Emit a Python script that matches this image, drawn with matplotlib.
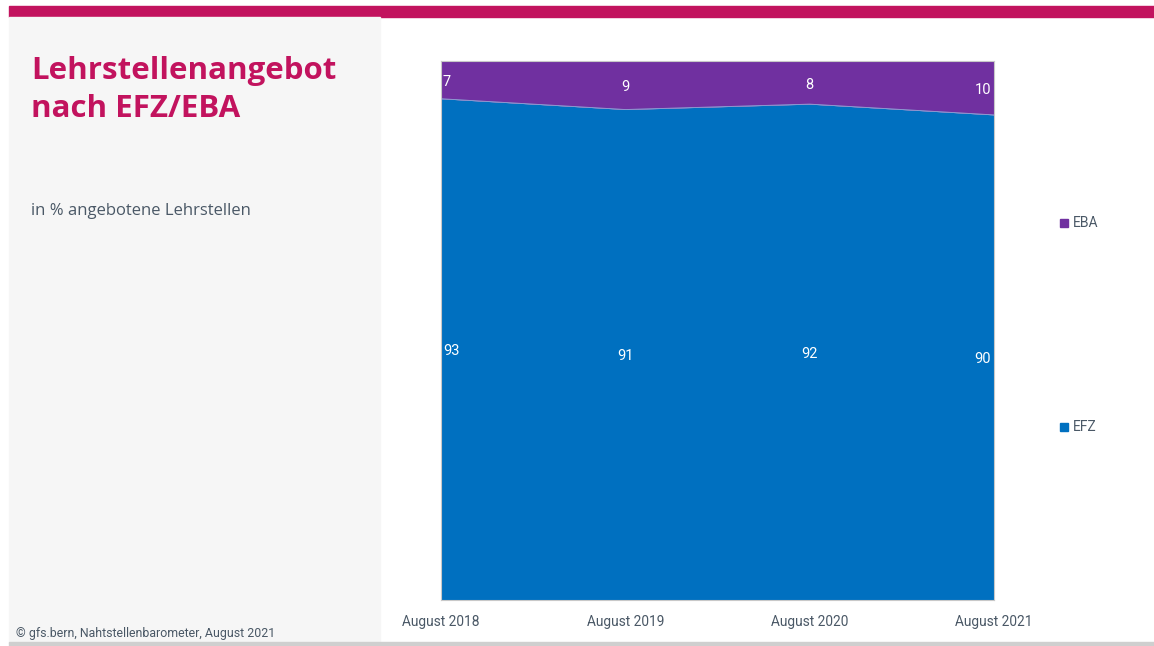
import matplotlib.pyplot as plt
import numpy as np
from matplotlib.patches import Rectangle
from matplotlib import font_manager

categories = ["August 2018", "August 2019", "August 2020", "August 2021"]
efz = [93, 91, 92, 90]
eba = [7, 9, 8, 10]

W, H = 1154, 646
fig = plt.figure(figsize=(W/100, H/100), dpi=100)
plt.rcParams['font.family'] = ['Open Sans', 'DejaVu Sans']

names = {f.name for f in font_manager.fontManager.ttflist}
narrow = 'Liberation Sans Narrow' if 'Liberation Sans Narrow' in names else 'Roboto'

def fx(px): return px / W
def fy(py): return 1 - py / H

# background panels
fig.patches.append(Rectangle((fx(9), fy(17)), fx(1154) - fx(9), fy(6) - fy(17),
                             transform=fig.transFigure, color='#C2135E', zorder=0))
fig.patches.append(Rectangle((fx(9), fy(643)), fx(380) - fx(9), fy(17) - fy(643),
                             transform=fig.transFigure, color='#F6F6F6', zorder=0))
fig.patches.append(Rectangle((fx(9), 0), fx(1154) - fx(9), fy(642),
                             transform=fig.transFigure, color='#CFCFCF', zorder=0))

fig.text(fx(31), fy(71), "Lehrstellenangebot", color='#C2135E',
         fontsize=22.5, fontweight='bold', va='center', ha='left')
fig.text(fx(31), fy(109), "nach EFZ/EBA", color='#C2135E',
         fontsize=22.5, fontweight='bold', va='center', ha='left')
fig.text(fx(31), fy(211), "in % angebotene Lehrstellen", color='#4A5866',
         fontsize=12, va='center', ha='left')
fig.text(fx(16), fy(633), "© gfs.bern, Nahtstellenbarometer, August 2021", color='#4A5866',
         fontsize=8.9, va='center', ha='left', family=[narrow, 'DejaVu Sans'])

ax = fig.add_axes([fx(441), fy(600), fx(994) - fx(441), fy(61) - fy(600)])
x = np.arange(len(categories))
efz_a = np.array(efz, float)
eba_a = np.array(eba, float)
ax.fill_between(x, 0, efz_a, color='#0070C0', lw=0, label='EFZ')
ax.fill_between(x, efz_a, efz_a + eba_a, color='#7030A0', lw=0, label='EBA')
ax.plot(x, efz_a, color='#8FA8D8', lw=0.6)
ax.set_xlim(0, len(categories) - 1)
ax.set_ylim(0, 100)
ax.set_yticks([])
ax.set_xticks(x)
ax.set_xticklabels(categories, family=[narrow, 'DejaVu Sans'])
ax.tick_params(axis='x', length=0, pad=11, labelsize=9.9, labelcolor='#4A5866')
for s in ax.spines.values():
    s.set_color('#C8C8C8')
    s.set_linewidth(0.8)

for i in range(len(categories)):
    ha = 'center'
    xo = 0
    if i == 0:
        ha, xo = 'left', 0.01
    elif i == len(categories) - 1:
        ha, xo = 'right', -0.015
    ax.text(x[i] + xo, efz_a[i] / 2 - 0.3, str(efz[i]), color='white', ha=ha, va='center',
            fontsize=10.5, family=[narrow, 'DejaVu Sans'])
    ax.text(x[i] + xo, efz_a[i] + eba_a[i] / 2 - 0.4, str(eba[i]), color='white', ha=ha, va='center',
            fontsize=10.5, family=[narrow, 'DejaVu Sans'])

# legend
for name, col, py in [("EBA", '#7030A0', 223), ("EFZ", '#0070C0', 427)]:
    fig.patches.append(Rectangle((fx(1060), fy(py + 4)), fx(8), fy(py - 4) - fy(py + 4),
                                 transform=fig.transFigure, color=col))
    fig.text(fx(1073), fy(py), name, color='#4A5866', fontsize=10, va='center', ha='left',
             family=[narrow, 'DejaVu Sans'])

fig.savefig("out.png", dpi=100)
